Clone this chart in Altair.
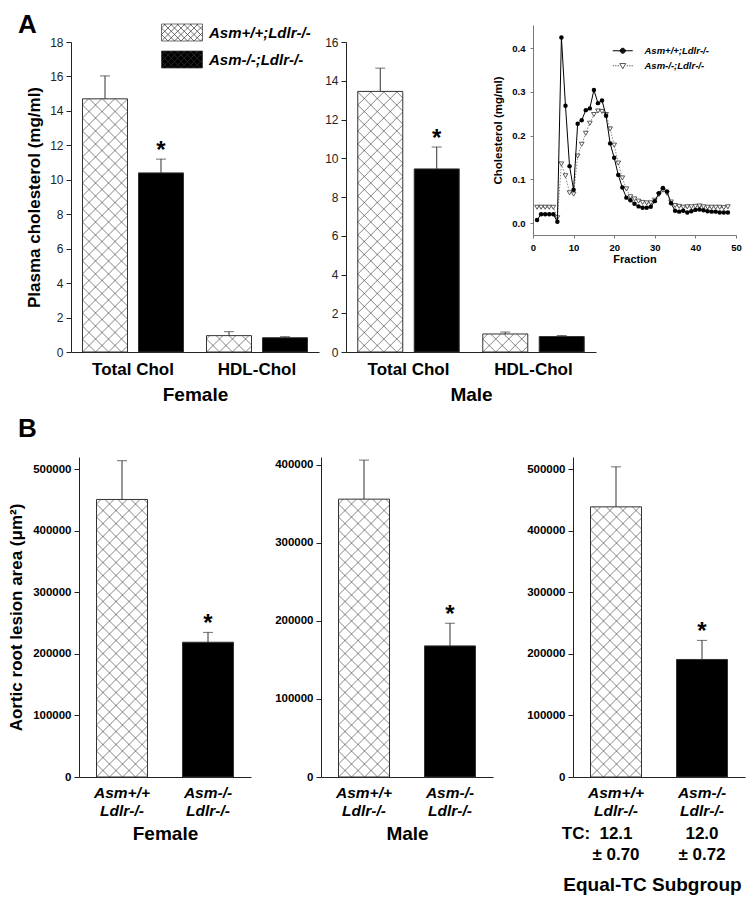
import math
import altair as alt
import pandas as pd

FONT = "Liberation Sans, Arial, Helvetica, sans-serif"

# ---------------- data ----------------
GENO = ["Asm+/+;Ldlr-/-", "Asm-/-;Ldlr-/-"]
CHOL_CAT = ["Total Chol", "HDL-Chol"]

fem_tc_mean = [14.7, 10.4]
fem_tc_sem = [1.33, 0.80]
fem_hdl_mean = [0.95, 0.83]
fem_hdl_sem = [0.23, 0.06]
male_tc_mean = [13.45, 9.45]
male_tc_sem = [1.20, 1.13]
male_hdl_mean = [0.93, 0.80]
male_hdl_sem = [0.10, 0.05]

fraction = list(range(1, 49))
chol_wt = [0.007, 0.020, 0.020, 0.020, 0.020, 0.003, 0.424, 0.268, 0.130, 0.076,
           0.227, 0.235, 0.258, 0.262, 0.304, 0.274, 0.280, 0.245, 0.182, 0.149,
           0.110, 0.081, 0.058, 0.052, 0.044, 0.038, 0.035, 0.035, 0.037, 0.050,
           0.068, 0.080, 0.072, 0.045, 0.028, 0.026, 0.028, 0.024, 0.027, 0.030,
           0.031, 0.029, 0.027, 0.026, 0.026, 0.024, 0.024, 0.024]
chol_ko = [0.036, 0.036, 0.036, 0.036, 0.036, 0.012, 0.135, 0.108, 0.069, 0.066,
           0.153, 0.180, 0.205, 0.228, 0.248, 0.256, 0.255, 0.248, 0.215, 0.178,
           0.137, 0.103, 0.078, 0.060, 0.055, 0.050, 0.047, 0.046, 0.046, 0.052,
           0.065, 0.075, 0.068, 0.048, 0.040, 0.038, 0.036, 0.037, 0.037, 0.038,
           0.039, 0.037, 0.036, 0.036, 0.036, 0.036, 0.035, 0.037]

lesion_female_mean = [451000, 219000]
lesion_female_sem = [63000, 16000]
lesion_male_mean = [356000, 168000]
lesion_male_sem = [50000, 29000]
lesion_eq_mean = [439000, 191000]
lesion_eq_sem = [65000, 31000]
eq_tc_mean = ["12.1", "12.0"]
eq_tc_sd = ["\u00b1 0.70", "\u00b1 0.72"]

# ---------------- layout (pixels inside the single plot area) ----------------
W, H = 738, 892
A_FEM_X, A_MALE_X, A_Y = (63, 311), (338, 588), (344, 34)
IN_X, IN_Y = (525, 728), (227, 17)
IN_YDOM = (-0.0274, 0.4526)
B_FEM_X, B_MALE_X, B_EQ_X, B_Y = (71, 243), (313, 485), (565, 737), (769, 449)
A_BAR_W, B_BAR_W = 45, 51


def hatch_path(w, h, p, cx=0.0, cy=0.0):
    x0, x1, y0, y1 = -w / 2, w / 2, -h / 2, h / 2
    parts = []
    for s in (1, -1):
        base = y1 - s * x0
        cs = [yy - s * xx for xx in (x0, x1) for yy in (y0, y1)]
        kmin = math.ceil((min(cs) - base) / p)
        kmax = math.floor((max(cs) - base) / p)
        for k in range(kmin, kmax + 1):
            c = base + k * p
            pts = []
            for xx in (x0, x1):
                yy = s * xx + c
                if y0 - 1e-6 <= yy <= y1 + 1e-6:
                    pts.append((xx, yy))
            for yy in (y0, y1):
                xx = (yy - c) / s
                if x0 - 1e-6 <= xx <= x1 + 1e-6:
                    pts.append((xx, yy))
            if len(pts) < 2:
                continue
            pts.sort()
            a, b = pts[0], pts[-1]
            if abs(a[0] - b[0]) < 0.6:
                continue
            parts.append("M%.2f,%.2fL%.2f,%.2f" % (a[0] + cx, a[1] + cy, b[0] + cx, b[1] + cy))
    return "".join(parts)


LEG_PATH = "M0,-8.5H41V8.5H0Z" + hatch_path(41, 17, 6.5, cx=20.5)
# inset legend symbols: solid line with a (filled) dot / dotted line with an open triangle
P_WT = "M-10,0H10" + "".join(
    "M%.1f,0A%.1f,%.1f 0 1,0 %.1f,0A%.1f,%.1f 0 1,0 %.1f,0" % (-r, r, r, r, r, r, -r)
    for r in (0.5, 1.0, 1.5, 2.0, 2.5))
P_KO = ("M-10,0h1.3M-7.6,0h1.3M-5.2,0h1.3M4,0h1.3M6.4,0h1.3M8.8,0h1.3"
        "M-3,-2.2L3,-2.2L0,3Z")


def axis_kw(**kw):
    d = dict(labelFont=FONT, titleFont=FONT, domainColor="#222", tickColor="#222",
             labelColor="black", titleColor="black", grid=False, labelOverlap=False)
    d.update(kw)
    return alt.Axis(**d)


def chol_panel(tc_m, tc_s, hdl_m, hdl_s, xr, dmax, xtitle, ytitle, legend):
    df = pd.DataFrame({
        "cat": [CHOL_CAT[0], CHOL_CAT[0], CHOL_CAT[1], CHOL_CAT[1]],
        "geno": GENO + GENO,
        "val": tc_m + hdl_m,
        "sem": tc_s + hdl_s,
    })
    df["hi"] = df["val"] + df["sem"]
    df["mid"] = df["val"] / 2
    ppu = (A_Y[0] - A_Y[1]) / dmax
    df["hatch"] = [hatch_path(A_BAR_W, v * ppu, 13) for v in df["val"]]
    df["star"] = [False, True, False, False]
    base = alt.Chart(df)
    x = alt.X("cat:N", scale=alt.Scale(domain=CHOL_CAT, range=list(xr),
                                       paddingInner=0.0968, paddingOuter=0.0484),
              axis=axis_kw(orient="bottom", offset=-(H - A_Y[0]), title=xtitle, labelAngle=0,
                           ticks=False, tickSize=0, labelPadding=9.5, labelFontSize=17,
                           labelFontWeight="bold", titleFontSize=19, titleFontWeight="bold",
                           titlePadding=8))
    xo = alt.XOffset("geno:N", scale=alt.Scale(domain=GENO, paddingInner=0, paddingOuter=0))
    ysc = alt.Scale(domain=[0, dmax], range=list(A_Y), nice=False, zero=True)
    yax = axis_kw(orient="left", offset=-xr[0], values=list(range(0, dmax + 1, 2)), tickSize=5,
                  labelPadding=3, labelFontSize=12, labelColor="#222", labelFlush=False,
                  title=ytitle, titleFontSize=17, titleFontWeight="bold", titlePadding=6)

    def yy(field):
        return alt.Y(field, scale=ysc, axis=yax)

    bars = base.mark_bar(width=A_BAR_W, stroke="#333", strokeWidth=1).encode(
        x=x, xOffset=xo, y=yy("val:Q"),
        fill=alt.Fill("geno:N", scale=alt.Scale(domain=GENO, range=["white", "black"]), legend=legend))
    hatch = base.transform_filter(alt.datum.geno == GENO[0]).mark_point(
        filled=False, size=4, color="#333", strokeWidth=0.6, opacity=1).encode(
        x=x, xOffset=xo, y=yy("mid:Q"), shape=alt.Shape("hatch:N", scale=None))
    err = base.mark_rule(color="#333", strokeWidth=1).encode(
        x=x, xOffset=xo, y=yy("val:Q"), y2="hi:Q")
    cap = base.mark_tick(color="#333", thickness=1, size=10).encode(
        x=x, xOffset=xo, y=yy("hi:Q"))
    star = base.transform_filter("datum.star").mark_text(
        text="*", font=FONT, fontSize=24, fontWeight="bold", baseline="alphabetic", dy=-1).encode(
        x=x, xOffset=xo, y=yy("hi:Q"))
    return alt.layer(bars, hatch, err, cap, star)


def lesion_panel(means, sems, xr, dmax, xtitle, ytitle, title_pad, title_x=None, extra=False):
    df = pd.DataFrame({"geno": GENO, "val": means, "sem": sems})
    df["hi"] = df["val"] + df["sem"]
    df["mid"] = df["val"] / 2
    ppu = (B_Y[0] - B_Y[1]) / dmax
    df["hatch"] = [hatch_path(B_BAR_W, v * ppu, 13) for v in df["val"]]
    df["star"] = [False, True]
    base = alt.Chart(df)
    xkw = dict(orient="bottom", offset=-(H - B_Y[0]), title=xtitle, labelAngle=0,
               labelExpr="split(datum.label, ';')", ticks=False, tickSize=0,
               labelPadding=8.5, labelFontSize=15.5, labelFontWeight="bold",
               labelFontStyle="italic", labelLineHeight=18,
               titleFontSize=19, titleFontWeight="bold", titlePadding=title_pad)
    if title_x is not None:
        xkw["titleX"] = title_x
    x = alt.X("geno:N", scale=alt.Scale(domain=GENO, range=list(xr), paddingInner=0, paddingOuter=0),
              axis=axis_kw(**xkw))
    ysc = alt.Scale(domain=[0, dmax], range=list(B_Y), nice=False, zero=True)
    yax = axis_kw(orient="left", offset=-xr[0], values=list(range(0, dmax + 1, 100000)), format="d",
                  tickSize=5, labelPadding=3, labelFontSize=11.5, labelFontWeight="bold", labelFlush=False,
                  title=ytitle, titleFontSize=17, titleFontWeight="bold", titlePadding=7)

    def yy(field):
        return alt.Y(field, scale=ysc, axis=yax)

    bars = base.mark_bar(width=B_BAR_W, stroke="#333", strokeWidth=1).encode(
        x=x, y=yy("val:Q"),
        fill=alt.Fill("geno:N", scale=alt.Scale(domain=GENO, range=["white", "black"]), legend=None))
    hatch = base.transform_filter(alt.datum.geno == GENO[0]).mark_point(
        filled=False, size=4, color="#333", strokeWidth=0.6, opacity=1).encode(
        x=x, y=yy("mid:Q"), shape=alt.Shape("hatch:N", scale=None))
    err = base.mark_rule(color="#333", strokeWidth=1).encode(x=x, y=yy("val:Q"), y2="hi:Q")
    cap = base.mark_tick(color="#333", thickness=1, size=10).encode(x=x, y=yy("hi:Q"))
    star = base.transform_filter("datum.star").mark_text(
        text="*", font=FONT, fontSize=24, fontWeight="bold", baseline="alphabetic", dy=-1).encode(
        x=x, y=yy("hi:Q"))
    layers = [bars, hatch, err, cap, star]
    if extra:
        tc_df = pd.DataFrame({"geno": GENO, "tc": eq_tc_mean, "sd": eq_tc_sd})
        tcb = alt.Chart(tc_df)
        layers.append(tcb.mark_text(font=FONT, fontSize=17, fontWeight="bold", baseline="middle").encode(
            x=x, text="tc:N", y=alt.value(826)))
        layers.append(tcb.mark_text(font=FONT, fontSize=17, fontWeight="bold", baseline="middle").encode(
            x=x, text="sd:N", y=alt.value(847)))
        layers.append(tcb.transform_filter(alt.datum.geno == GENO[0]).mark_text(
            text="TC:", font=FONT, fontSize=17, fontWeight="bold", baseline="middle").encode(
            x=alt.value(568), y=alt.value(826)))
    return alt.layer(*layers)


def inset_panel():
    n = len(fraction)
    df = pd.DataFrame({"fraction": fraction + fraction, "chol": chol_wt + chol_ko,
                       "series": [GENO[0]] * n + [GENO[1]] * n})
    base = alt.Chart(df)
    xsc = alt.Scale(domain=[0, 50], range=list(IN_X), nice=False, zero=False)
    ysc = alt.Scale(domain=list(IN_YDOM), range=list(IN_Y), nice=False, zero=False)
    xax = axis_kw(orient="bottom", offset=-(H - IN_Y[0]), values=[0, 10, 20, 30, 40, 50], format="d",
                  tickSize=3, labelPadding=4, labelFontSize=9.5, labelFontWeight="bold", labelFlush=False,
                  title="Fraction", titleFontSize=11, titleFontWeight="bold", titlePadding=2,
                  domainColor="#777", tickColor="#777")
    yax = axis_kw(orient="left", offset=-IN_X[0], values=[0, 0.1, 0.2, 0.3, 0.4], format=".1f",
                  tickSize=3, labelPadding=5, labelFontSize=9.5, labelFontWeight="bold", labelFlush=False,
                  title="Cholesterol (mg/ml)", titleFontSize=11.5, titleFontWeight="bold", titlePadding=8,
                  domainColor="#777", tickColor="#777")
    xe = alt.X("fraction:Q", scale=xsc, axis=xax)
    ye = alt.Y("chol:Q", scale=ysc, axis=yax)
    ko = base.transform_filter(alt.datum.series == GENO[1])
    wt = base.transform_filter(alt.datum.series == GENO[0])
    ko_line = ko.mark_line(color="#8a8a8a", strokeWidth=1, strokeDash=[1.5, 1.5]).encode(x=xe, y=ye)
    ko_pts = ko.mark_point(shape="triangle-down", filled=True, fill="white", stroke="#333",
                           strokeWidth=0.8, size=22, opacity=1).encode(x=xe, y=ye)
    wt_line = wt.mark_line(color="black", strokeWidth=1).encode(x=xe, y=ye)
    wt_pts = wt.mark_point(shape="circle", filled=True, color="black", size=20, opacity=1).encode(x=xe, y=ye)
    leg_df = pd.DataFrame({"series": GENO, "fraction": [fraction[0]] * 2, "chol": [chol_wt[0], chol_ko[0]]})
    inleg = alt.Legend(orient="none", legendX=610, legendY=38, title=None, symbolSize=4, labelOffset=17,
                       labelFont=FONT, labelFontSize=9.5, labelFontWeight="bold", labelFontStyle="italic",
                       labelColor="black", rowPadding=4, padding=0, symbolStrokeWidth=1)
    leg = alt.Chart(leg_df).mark_point(filled=False, opacity=0, size=4, strokeWidth=1).encode(
        x=xe, y=ye,
        shape=alt.Shape("series:N", scale=alt.Scale(domain=GENO, range=[P_WT, P_KO]), legend=inleg),
        stroke=alt.Stroke("series:N", scale=alt.Scale(domain=GENO, range=["black", "#555"]), legend=inleg))
    return alt.layer(ko_line, ko_pts, wt_line, wt_pts, leg)


fem_leg = alt.Legend(orient="none", legendX=146, legendY=17, title=None, symbolType=LEG_PATH, symbolSize=4,
                     symbolStrokeColor="#333", symbolStrokeWidth=0.7, labelFont=FONT, labelFontSize=15,
                     labelFontWeight="bold", labelFontStyle="italic", labelColor="black", labelOffset=40,
                     rowPadding=6, padding=0)

femA = chol_panel(fem_tc_mean, fem_tc_sem, fem_hdl_mean, fem_hdl_sem, A_FEM_X, 18,
                  "Female", "Plasma cholesterol (mg/ml)", fem_leg)
maleA = chol_panel(male_tc_mean, male_tc_sem, male_hdl_mean, male_hdl_sem, A_MALE_X, 16,
                   "Male", None, None)
inset = inset_panel()
femB = lesion_panel(lesion_female_mean, lesion_female_sem, B_FEM_X, 520000, "Female",
                    "Aortic root lesion area (\u03bcm\u00b2)", 5)
maleB = lesion_panel(lesion_male_mean, lesion_male_sem, B_MALE_X, 410000, "Male", None, 5)
eqB = lesion_panel(lesion_eq_mean, lesion_eq_sem, B_EQ_X, 520000, "Equal-TC Subgroup", None, 56,
                   title_x=644, extra=True)

letters_df = pd.DataFrame({"panel": ["A", "B"]})
letterA = alt.Chart(letters_df).transform_filter(alt.datum.panel == "A").mark_text(
    font=FONT, fontSize=26, fontWeight="bold", align="left", baseline="alphabetic").encode(
    text="panel:N", x=alt.value(10), y=alt.value(25))
letterB = alt.Chart(letters_df).transform_filter(alt.datum.panel == "B").mark_text(
    font=FONT, fontSize=26, fontWeight="bold", align="left", baseline="alphabetic").encode(
    text="panel:N", x=alt.value(10), y=alt.value(429))

chart = alt.layer(femA, maleA, inset, femB, maleB, eqB, letterA, letterB).resolve_scale(
    x="independent", y="independent", xOffset="independent", fill="independent",
    shape="independent", stroke="independent").resolve_axis(
    x="independent", y="independent").resolve_legend(
    fill="independent", shape="independent", stroke="independent").properties(
    width=W, height=H, padding=0, autosize=alt.AutoSizeParams(type="none")).configure_view(strokeWidth=0)

chart.save("out.html", embed_options={"renderer": "svg", "actions": False})
